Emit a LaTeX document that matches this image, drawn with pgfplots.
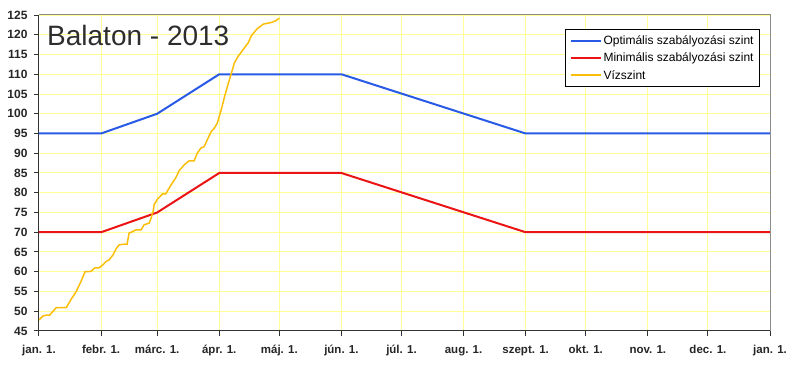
\documentclass[border=0pt]{standalone}
\usepackage{pgfplots}
\pgfplotsset{compat=1.18}
\usepackage{fontspec}
\setmainfont{Liberation Sans}
\definecolor{gridyellow}{RGB}{255,255,150}
\definecolor{optblue}{RGB}{40,90,230}
\definecolor{minred}{RGB}{235,20,20}
\definecolor{wyellow}{RGB}{250,190,10}
\definecolor{titlegray}{RGB}{45,45,45}
\begin{document}
\begin{tikzpicture}
\useasboundingbox (0,0) rectangle (800pt,366pt);
\begin{axis}[
  at={(39pt,35pt)}, anchor=south west,
  scale only axis, width=731pt, height=316pt,
  xmin=0, xmax=365, ymin=45, ymax=125,
  xtick={0,31,59,90,120,151,181,212,243,273,304,334,365},
  xticklabels={jan. 1., febr. 1., márc. 1., ápr. 1., máj. 1., jún. 1., júl. 1., aug. 1., szept. 1., okt. 1., nov. 1., dec. 1., jan. 1.},
  ytick={45,50,...,125},
  grid=major,
  grid style={gridyellow, line width=1pt},
  axis lines=left,
  axis line style={-, black!80, line width=1pt},
  tick align=outside,
  major tick length=5pt,
  tick style={black!80, line width=1pt},
  /pgf/number format/assume math mode=true,
  x tick label style={font=\fontsize{11.5}{13}\selectfont\bfseries, text=black!85, yshift=-6pt},
  y tick label style={font=\fontsize{12}{14}\selectfont\bfseries, text=black!85, xshift=-3pt},
  legend cell align=left,
  legend style={at={(axis description cs:0.9863,0.9554)}, anchor=north east,
    draw=black, line width=0.8pt, font=\fontsize{12}{14}\selectfont,
    row sep=3pt, inner sep=4pt},
  legend image code/.code={\draw[#1, line width=2pt] (0pt,0pt) -- (30pt,0pt);},
]
\addplot[optblue, line width=2pt] coordinates {(0,95) (31,95) (59,100) (90,110) (151,110) (243,95) (365,95)};
\addlegendentry{Optimális szabályozási szint}
\addplot[minred, line width=2pt] coordinates {(0,70) (31,70) (59,75) (90,85) (151,85) (243,70) (365,70)};
\addlegendentry{Minimális szabályozási szint}
\addplot[wyellow, line width=1.5pt] coordinates {
(0,47.8) (2,48.8) (3.6,49) (5.3,49) (7,50) (8.6,50.9) (13.6,50.9) (16,53) (18.6,55)
(21,57.6) (23,60) (26,60.1) (27.9,61) (30,61) (32,61.8) (33.5,62.6) (35,63) (37,64.3)
(38.5,65.8) (40,66.8) (42.6,67) (44,67) (45,69.8) (46,70) (48.4,70.6) (51,70.6)
(52.5,71.9) (55,72.3) (56,73.6) (57,75.3) (57.5,77) (59,78.3) (61.7,79.7) (63.3,79.7)
(65,81.2) (66.6,82.5) (68.3,83.8) (70,85.6) (72.6,87.1) (75,88.1) (77.5,88.1) (79,90)
(80.8,91.3) (82.5,91.7) (84,93.4) (86,95.5) (87.6,96.4) (89,97.6) (91,101) (92.7,104.4)
(94.3,107.3) (96.2,110.5) (97.5,112.8) (99.5,114.6) (102,116.3) (104.5,118) (106,119.7)
(108.7,121.4) (112,122.7) (116,123.1) (118,123.5) (120,124.2)};
\addlegendentry{Vízszint}
\end{axis}
\draw[black!45, line width=1pt] (39pt,351pt) -- (770pt,351pt) -- (770pt,35pt);
\node[anchor=base west, font=\fontsize{28}{30}\selectfont, text=titlegray, inner sep=0pt] at (47pt,320pt) {Balaton - 2013};
\end{tikzpicture}
\end{document}
